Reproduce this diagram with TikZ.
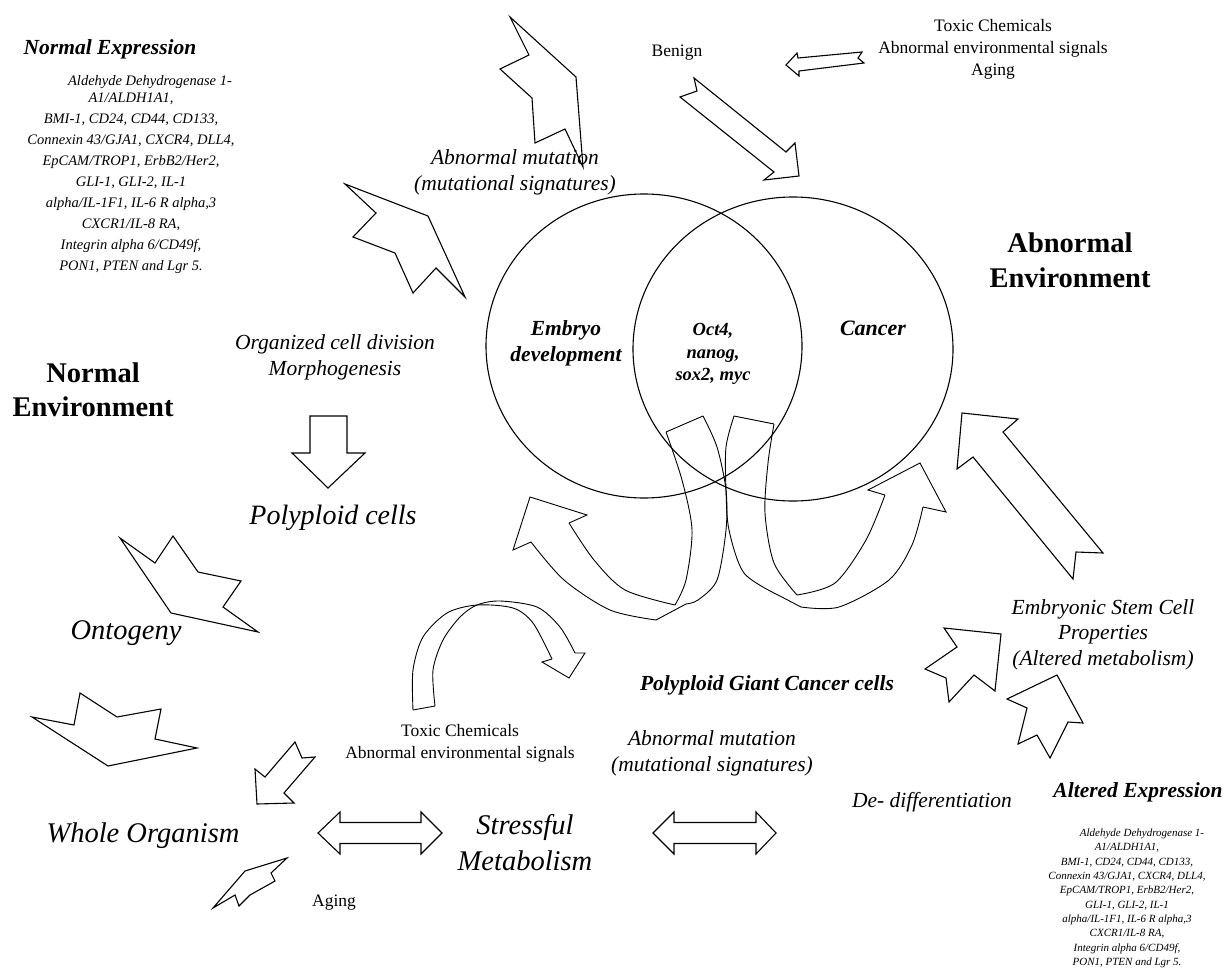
\documentclass[tikz,border=0pt]{standalone}
\usepackage{fontspec}
\setmainfont{Liberation Serif}
\begin{document}
\begin{tikzpicture}[x=1pt,y=-1pt,
  shp/.style={draw=black, line width=1.1pt, line join=miter},
  rib/.style={draw=black, line width=0.9pt, line join=miter},
  txt/.style={inner sep=0pt, outer sep=0pt, align=center},
  fTitle/.style={font=\fontsize{21.5}{26}\selectfont\bfseries\itshape},
  fList/.style={font=\fontsize{14.5}{21}\selectfont\itshape},
  fListS/.style={font=\fontsize{11}{14.3}\selectfont\itshape},
  fBig/.style={font=\fontsize{28.5}{35}\selectfont\bfseries},
  fIt/.style={font=\fontsize{21.5}{26}\selectfont\itshape},
  fItL/.style={font=\fontsize{28.5}{36}\selectfont\itshape},
  fReg/.style={font=\fontsize{17.5}{22}\selectfont}]
\useasboundingbox (0,0) rectangle (1227,969);

% circles
\draw[shp] (644,346) ellipse [x radius=158pt, y radius=152pt];
\draw[shp] (793,349) ellipse [x radius=160pt, y radius=152pt];

% texts
\node[txt,fTitle,anchor=base] (netitle) at (110,54.3) {Normal Expression};
\node[txt,fList,anchor=north] (nelist) at (131,75) {\hspace*{38pt}Aldehyde Dehydrogenase 1-\\[-4pt]
A1/ALDH1A1,\\ BMI-1, CD24, CD44, CD133,\\ Connexin 43/GJA1, CXCR4, DLL4,\\ EpCAM/TROP1, ErbB2/Her2,\\
GLI-1, GLI-2, IL-1\\ alpha/IL-1F1, IL-6 R alpha,3\\ CXCR1/IL-8 RA,\\ Integrin alpha 6/CD49f,\\ PON1, PTEN and Lgr 5.};
\node[txt,fIt,anchor=north] (mut1) at (515,149.5) {Abnormal mutation\\(mutational signatures)};
\node[txt,fReg,anchor=base] (benign) at (677,56) {Benign};
\node[txt,fReg,anchor=north] (toxic1) at (993,19) {Toxic Chemicals\\Abnormal environmental signals\\Aging};
\node[txt,fBig,anchor=north] (abnenv) at (1070,233) {Abnormal\\Environment};
\node[txt,fBig,font=\fontsize{28.5}{34}\selectfont\bfseries,anchor=north] (normenv) at (93,363) {Normal\\Environment};
\node[txt,fIt,anchor=north] (organized) at (335,334.5) {Organized cell division\\Morphogenesis};
\node[txt,fTitle,anchor=north] (embryo) at (566,320.5) {Embryo\\development};
\node[txt,font=\fontsize{18.5}{22.5}\selectfont\bfseries\itshape,anchor=north] (oct) at (713,323.5) {Oct4,\\nanog,\\sox2, myc};
\node[txt,font=\fontsize{22}{26}\selectfont\bfseries\itshape,anchor=base] (cancer) at (873,335.5) {Cancer};
\node[txt,font=\fontsize{28}{34}\selectfont\itshape,anchor=base] (polyploid) at (333,524.5) {Polyploid cells};
\node[txt,fItL,anchor=base] (ontogeny) at (126,639.7) {Ontogeny};
\node[txt,fItL,anchor=base] (whole) at (143,842.7) {Whole Organism};
\node[txt,fReg,anchor=base] (aging2) at (334,906) {Aging};
\node[txt,fReg,anchor=north] (toxic2) at (460,724) {Toxic Chemicals\\Abnormal environmental signals};
\node[txt,fItL,anchor=north] (stressful) at (525,814) {Stressful\\Metabolism};
\node[txt,fIt,anchor=north] (mut2) at (712,730.5) {Abnormal mutation\\(mutational signatures)};
\node[txt,fTitle,anchor=base] (pgcc) at (767,690.3) {Polyploid Giant Cancer cells};
\node[txt,font=\fontsize{21.5}{25.5}\selectfont\itshape,anchor=north] (esc) at (1103,599.5) {Embryonic Stem Cell\\Properties\\(Altered metabolism)};
\node[txt,fIt,anchor=base] (dediff) at (932,807.3) {De- differentiation};
\node[txt,fTitle,anchor=base] (alttitle) at (1138,797.3) {Altered Expression};
\node[txt,fListS,anchor=north] (altlist) at (1127,829) {\hspace*{30pt}Aldehyde Dehydrogenase 1-\\
A1/ALDH1A1,\\ BMI-1, CD24, CD44, CD133,\\ Connexin 43/GJA1, CXCR4, DLL4,\\ EpCAM/TROP1, ErbB2/Her2,\\
GLI-1, GLI-2, IL-1\\ alpha/IL-1F1, IL-6 R alpha,3\\ CXCR1/IL-8 RA,\\ Integrin alpha 6/CD49f,\\ PON1, PTEN and Lgr 5.};

% block arrows
\draw[shp] (510,17) -- (576,77) -- (583,167) -- (565,129) -- (535,143) -- (532,98) -- (500,69) -- (529,55) -- cycle;
\draw[shp] (345,184) -- (428,216) -- (465,297) -- (436,268) -- (413,293) -- (395,253) -- (353,237) -- (376,213) -- cycle;
\draw[shp] (786,65) -- (797,53) -- (798,58) -- (862,52) -- (858,58) -- (864,63) -- (799,71) -- (799,76) -- cycle;
\draw[shp] (694,78) -- (786,152) -- (795,143) -- (799,176) -- (764,180) -- (774,172) -- (680,97) -- (697,91) -- cycle;
\draw[shp] (310,416) -- (347,416) -- (347,453) -- (365,453) -- (328,488) -- (292,453) -- (310,453) -- cycle;
\draw[shp] (120,538) -- (155,563) -- (173,536) -- (198,572) -- (241,581) -- (223,607) -- (258,632) -- (171,613) -- cycle;
\draw[shp] (32,717) -- (74,725) -- (80,693) -- (117,717) -- (161,709) -- (155,739) -- (197,748) -- (108,766) -- cycle;
\draw[shp] (295,742) -- (302,758) -- (315,757) -- (284,793) -- (294,803) -- (257,804) -- (255,769) -- (265,777) -- cycle;
\draw[shp] (213,908) -- (245,871) -- (287,858) -- (271,873) -- (275,881) -- (250,895) -- (239,906) -- (235,895) -- cycle;
\draw[shp] (318,833) -- (340,812) -- (340,822.5) -- (421,822.5) -- (421,812) -- (442,833) -- (421,854) -- (421,843.5) -- (340,843.5) -- (340,854) -- cycle;
\draw[shp] (653,833) -- (674,812) -- (674,822.5) -- (756,822.5) -- (756,812) -- (776,833) -- (756,854) -- (756,843.5) -- (674,843.5) -- (674,854) -- cycle;
\draw[shp] (962,413) -- (1018,419) -- (1003,432) -- (1103,553) -- (1076,552) -- (1073,579) -- (973,457) -- (957,469) -- cycle;
\draw[shp] (1001,634) -- (995,691) -- (974,675) -- (949,702) -- (946,678) -- (925,669) -- (957,647) -- (944,628) -- cycle;
\draw[shp] (1057,675) -- (1083,723) -- (1068,722) -- (1050,758) -- (1037,735) -- (1018,744) -- (1027,708) -- (1007,699) -- cycle;

% left ribbon arrow
\draw[rib] (666,432) -- (703,416);
\draw[rib] plot[smooth] coordinates {(666,432) (682,480) (692,530) (686,580) (675,605)};
\draw[rib] plot[smooth] coordinates {(703,416) (717,447) (726,490) (726,530) (717,580) (698,600) (686,604)};
\draw[rib] plot[smooth] coordinates {(531,542) (564,580) (610,610) (656,620)} -- (686,604);
\draw[rib] plot[smooth] coordinates {(569,523) (594,560) (625,590) (675,605)};
\draw[rib] (569,523) -- (587,515) -- (530,497) -- (513,550) -- (531,542);

% right ribbon arrow
\draw[rib] (734,416) -- (774,424);
\draw[rib] plot[smooth] coordinates {(734,416) (726,447) (726,490) (729,530) (744,573) (778,595)};
\draw[rib] plot[smooth] coordinates {(774,424) (768,463) (765,513) (774,563) (797,595)};
\draw[rib] (778,595) -- (801,607);
\draw[rib] plot[smooth] coordinates {(801,607) (839,607) (889,580) (912,545) (923,507)};
\draw[rib] plot[smooth] coordinates {(797,595) (835,583) (866,540) (885,495)};
\draw[rib] (885,495) -- (868,490) -- (920,463) -- (946,512) -- (923,507);

% curved arrow near toxic chemicals
\draw[rib] (413,710) -- (435,706);
\draw[rib] plot[smooth] coordinates {(413,710) (413,670) (423,637) (447,613) (477,605) (513,608) (533,623) (552,659)};
\draw[rib] plot[smooth] coordinates {(435,706) (433,670) (443,640) (460,617) (477,605) (500,601) (537,607) (560,627) (575,653)};
\draw[rib] (552,659) -- (542,662) -- (569,678) -- (585,653) -- (575,653);
\end{tikzpicture}
\end{document}
